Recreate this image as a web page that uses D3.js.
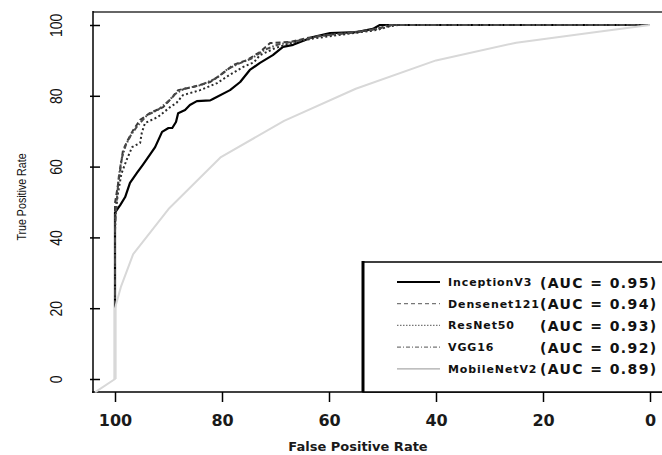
<!DOCTYPE html>
<html>
<head>
<meta charset="utf-8">
<script src="https://d3js.org/d3.v7.min.js"></script>
<style>
body { margin: 0; background: #fff; }
.narrow { font-family: "Liberation Sans", Arial, sans-serif; }
.wide { font-family: "DejaVu Sans", Verdana, sans-serif; font-weight: bold; }
</style>
</head>
<body>
<script>
// ROC points as [specificity %, sensitivity %]
var inceptionV3 = [[100,0],[100,47],[99,49.2],[98.1,51.4],[97.2,55.4],[95.9,58.2],[94.8,60.5],[93.5,63.3],[92.5,65.5],[91.2,69.8],[90,70.9],[89.3,70.9],[88.6,72.6],[88.2,75.1],[86.9,76],[86,77.4],[84.7,78.5],[82.2,78.7],[81.7,79.1],[78.5,81.6],[76.6,83.9],[74.8,87.3],[72.9,89.3],[70.5,91.5],[68.6,93.8],[66.7,94.4],[63,96.6],[59.8,97.7],[54.8,98],[51.8,98.9],[50.5,100],[0,100]]
var densenet121 = [[100,0],[100,49.7],[99.6,53.4],[99.1,58.2],[98.5,64.7],[97.6,67.5],[96.6,70.3],[95.3,73.2],[93.5,75.1],[91,76.8],[89.2,79.7],[88.2,81.6],[85.4,82.5],[82.2,83.9],[79.8,86.4],[77.9,88.7],[75.3,90.1],[72.9,92.4],[71,94.9],[67.3,95.2],[64.1,96.3],[60.4,97.2],[56.6,97.7],[52.3,98.6],[49.9,99.4],[48,100],[0,100]]
var resNet50 = [[100,0],[100,45],[99.5,52],[98.8,58],[97.8,62],[96.8,65.5],[95.3,66.7],[95,69.5],[94.4,72.3],[92,74],[89.7,76.8],[88.5,78],[87.3,80.2],[84.1,81.6],[80.9,83.6],[78.5,86],[76.1,88.1],[74,89.5],[72.9,91.5],[70,93.5],[67,95],[63,96.2],[59,97],[55,97.8],[51,98.6],[49,99.5],[47,100],[0,100]]
var vgg16 = [[100,0],[100,42],[99.7,50],[99.3,57],[98.8,62],[98,66],[97,69],[95.8,71.5],[94,74.5],[92,76],[90,78.5],[88.8,80.5],[87,82],[84,83],[81,85],[79,87.5],[77,89],[74.5,90.5],[72,93],[69.5,94.5],[66,95.5],[62,96.8],[58,97.5],[54,98.2],[50.5,99],[49,100],[0,100]]
var mobileNetV2 = [[103.7,-3.7],[100,0],[100,20],[98.9,26],[96.6,35.3],[90,48],[80.2,62.7],[68.4,72.9],[55,82],[40,90],[25,95],[10,98],[0,100]]

var modelNames = ["InceptionV3", "Densenet121", "ResNet50", "VGG16", "MobileNetV2"]
var aucValues = ["0.95", "0.94", "0.93", "0.92", "0.89"]
var xTicks = [100, 80, 60, 40, 20, 0]
var yTicks = [0, 20, 40, 60, 80, 100]

var series = [inceptionV3, densenet121, resNet50, vgg16, mobileNetV2]
var strokes = ["#000", "#3a3a3a", "#2a2a2a", "#4a4a4a", "#d8d8d8"]
var widths = [2.2, 2, 2, 2, 2]
var dashes = [null, "5,3", "2,2.5", "5,2,1.5,2", null]

var w = 662, h = 455

var svg = d3.select("body").append("svg")
            .attr("width", w)
            .attr("height", h)

var x = d3.scaleLinear().domain([100, 0]).range([115, 650])
var y = d3.scaleLinear().domain([0, 100]).range([379, 25])

// frame
svg.append("line").attr("x1", 93).attr("x2", w).attr("y1", 12).attr("y2", 12)
   .attr("stroke", "#666").attr("stroke-width", 2)
svg.append("line").attr("x1", 93).attr("x2", 93).attr("y1", 11).attr("y2", 393)
   .attr("stroke", "#000").attr("stroke-width", 1.5)
svg.append("line").attr("x1", 92).attr("x2", w).attr("y1", 392).attr("y2", 392)
   .attr("stroke", "#000").attr("stroke-width", 1.5)

// axes
var xAxis = svg.append("g")
   .attr("transform", "translate(0,392)")
   .call(d3.axisBottom(x).tickValues(xTicks).tickSize(10).tickPadding(13))
xAxis.select(".domain").remove()
xAxis.selectAll(".tick line").attr("stroke-width", 1.5)
xAxis.selectAll(".tick text")
   .attr("class", "wide")
   .attr("font-size", 16)
   .attr("fill", "#1a1a1a")

var yAxis = svg.append("g")
   .attr("transform", "translate(93,0)")
   .call(d3.axisLeft(y).tickValues(yTicks).tickSize(-7))
yAxis.select(".domain").remove()
yAxis.selectAll(".tick line").attr("x1", -3).attr("stroke-width", 1.5)
yAxis.selectAll(".tick text")
   .attr("class", "narrow")
   .attr("x", null)
   .attr("dy", null)
   .attr("font-size", 17)
   .attr("fill", "#111")
   .attr("text-anchor", "middle")
   .attr("transform", "translate(-31,0) rotate(-90) scale(0.82,1)")

svg.append("text")
   .attr("class", "narrow")
   .attr("font-size", 13)
   .attr("text-anchor", "middle")
   .attr("fill", "#111")
   .attr("transform", "translate(26,197) rotate(-90) scale(0.82,1)")
   .text("True Positive Rate")

svg.append("text")
   .attr("class", "wide")
   .attr("font-size", 13)
   .attr("x", 358)
   .attr("y", 451)
   .attr("text-anchor", "middle")
   .attr("fill", "#1a1a1a")
   .text("False Positive Rate")

// curves (MobileNetV2 last, it shows on top near the axis)
var line = d3.line()
   .x(function(d){ return x(d[0]) })
   .y(function(d){ return y(d[1]) })

svg.selectAll("path.roc")
   .data(series)
   .enter()
   .append("path")
   .attr("class", "roc")
   .attr("d", line)
   .attr("fill", "none")
   .attr("stroke", function(d, i){ return strokes[i] })
   .attr("stroke-width", function(d, i){ return widths[i] })
   .attr("stroke-dasharray", function(d, i){ return dashes[i] })
   .attr("stroke-linejoin", "round")

// legend
var legend = svg.append("g")
legend.append("rect")
   .attr("x", 363).attr("y", 262)
   .attr("width", 400).attr("height", 130)
   .attr("fill", "#fff").attr("stroke", "#000").attr("stroke-width", 1.5)
legend.append("line")
   .attr("x1", 363).attr("x2", 363).attr("y1", 261).attr("y2", 392)
   .attr("stroke", "#000").attr("stroke-width", 3)

var rows = legend.selectAll("g.row")
   .data(modelNames)
   .enter()
   .append("g")
   .attr("class", "row")
   .attr("transform", function(d, i){ return "translate(0," + (282 + i * 21.7) + ")" })

rows.append("line")
   .attr("x1", 397).attr("x2", 440)
   .attr("stroke", function(d, i){ return i == 0 ? "#000" : i == 4 ? "#aaa" : "#777" })
   .attr("stroke-width", function(d, i){ return i == 0 ? 2 : 1.3 })
   .attr("stroke-dasharray", function(d, i){ return i == 1 ? "4,3" : i == 2 ? "1.5,1.5" : i == 3 ? "4,2,1,2" : null })

rows.append("text")
   .attr("class", "wide")
   .attr("x", 448)
   .attr("y", 4)
   .attr("font-size", 11)
   .attr("letter-spacing", 0.9)
   .attr("fill", "#111")
   .text(function(d){ return d })

rows.append("text")
   .attr("class", "wide")
   .attr("x", 540)
   .attr("y", 5.5)
   .attr("font-size", 14)
   .attr("letter-spacing", 1.4)
   .attr("fill", "#111")
   .text(function(d, i){ return "(AUC = " + aucValues[i] + ")" })
</script>
</body>
</html>
